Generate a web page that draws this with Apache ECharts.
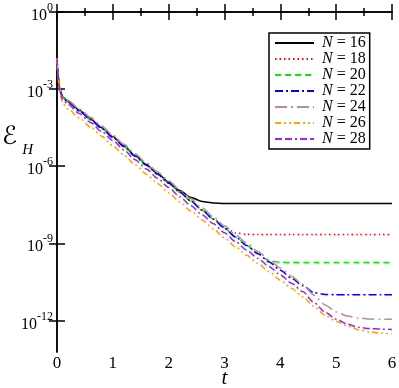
<!DOCTYPE html>
<html>
<head>
<meta charset="utf-8">
<script src="https://cdn.jsdelivr.net/npm/echarts@6/dist/echarts.min.js"></script>
<style>
  html, body { margin: 0; padding: 0; background: #fff; }
  #main { width: 399px; height: 388px; }
</style>
</head>
<body>
<div id="main"></div>
<script>
// time points
const t = [0, 0.02, 0.05, 0.1, 0.2, 0.4, 0.6, 0.8, 1.0, 1.2, 1.4, 1.6, 1.8, 2.0, 2.2, 2.4, 2.6, 2.8,
  3.0, 3.2, 3.4, 3.6, 3.8, 4.0, 4.2, 4.4, 4.6, 4.8, 5.0, 5.2, 5.4, 5.6, 5.8, 6.0];

// log10 of E_H
const logE16 = [-1.8, -2.5, -3.0, -3.3, -3.48, -3.82, -4.16, -4.5, -4.85, -5.21, -5.58, -5.93, -6.28, -6.62, -6.95, -7.22, -7.37, -7.43,
  -7.45, -7.45, -7.45, -7.45, -7.45, -7.45, -7.45, -7.45, -7.45, -7.45, -7.45, -7.45, -7.45, -7.45, -7.45, -7.45];
const logE18 = [-1.8, -2.5, -3.0, -3.32, -3.5, -3.84, -4.18, -4.52, -4.87, -5.23, -5.6, -5.95, -6.3, -6.65, -7.0, -7.35, -7.7, -8.05,
  -8.38, -8.6, -8.65, -8.66, -8.66, -8.66, -8.66, -8.66, -8.66, -8.66, -8.66, -8.66, -8.66, -8.66, -8.66, -8.66];
const logE20 = [-1.8, -2.5, -3.0, -3.32, -3.5, -3.85, -4.19, -4.53, -4.88, -5.24, -5.6, -5.96, -6.31, -6.66, -7.01, -7.36, -7.71, -8.06,
  -8.41, -8.76, -9.08, -9.4, -9.68, -9.74, -9.75, -9.75, -9.75, -9.75, -9.75, -9.75, -9.75, -9.75, -9.75, -9.75];
const logE22 = [-1.8, -2.5, -3.0, -3.33, -3.51, -3.85, -4.19, -4.53, -4.88, -5.24, -5.61, -5.96, -6.31, -6.66, -7.01, -7.36, -7.71, -8.06,
  -8.41, -8.76, -9.09, -9.41, -9.73, -10.05, -10.36, -10.65, -10.92, -10.99, -11.0, -11.0, -11.0, -11.0, -11.0, -11.0];
const logE24 = [-1.8, -2.5, -2.98, -3.28, -3.44, -3.77, -4.1, -4.44, -4.79, -5.15, -5.52, -5.87, -6.22, -6.57, -6.92, -7.27, -7.62, -7.97,
  -8.32, -8.67, -9.0, -9.32, -9.64, -9.96, -10.28, -10.6, -11.02, -11.4, -11.67, -11.83, -11.91, -11.95, -11.96, -11.96];
const logE26 = [-1.8, -2.55, -3.15, -3.55, -3.78, -4.12, -4.47, -4.83, -5.2, -5.57, -5.95, -6.31, -6.67, -7.03, -7.39, -7.74, -8.09, -8.44,
  -8.79, -9.14, -9.47, -9.79, -10.11, -10.43, -10.75, -11.08, -11.45, -11.8, -12.03, -12.22, -12.36, -12.45, -12.5, -12.52];
const logE28 = [-1.8, -2.5, -3.05, -3.4, -3.6, -3.95, -4.3, -4.65, -5.0, -5.37, -5.75, -6.11, -6.47, -6.83, -7.19, -7.54, -7.89, -8.24,
  -8.59, -8.94, -9.27, -9.59, -9.91, -10.23, -10.55, -10.88, -11.3, -11.68, -11.95, -12.15, -12.27, -12.32, -12.34, -12.35];

const names = ['16', '18', '20', '22', '24', '26', '28'];
const yTicks = [0, -3, -6, -9, -12];

const seriesData = [logE16, logE18, logE20, logE22, logE24, logE26, logE28];
const colors = ['#000000', '#ff0000', '#00ee00', '#0000ff', '#bc8f8f', '#ffa500', '#a020f0'];
const dashes = ['solid', [1.5, 3], [6, 4], [8, 3, 2, 3], [12, 4, 2, 4], [6, 3, 2, 3, 2, 3], [7, 3, 7, 3, 2, 3]];

const serif = 'Liberation Serif';

const myChart = echarts.init(document.getElementById('main'));

const series = seriesData.map(function (vals, i) {
    return {
        name: 'N = ' + names[i],
        type: 'line',
        data: t.map(function (x, j) { return [x, vals[j]]; }),
        symbol: 'none',
        smooth: 0.25,
        smoothMonotone: 'x',
        lineStyle: { color: colors[i], width: 1.5, type: dashes[i] },
        itemStyle: { color: colors[i] }
    };
});

const xCommon = {
    type: 'value',
    min: 0,
    max: 6,
    interval: 1,
    axisLine: { lineStyle: { color: '#000', width: 1.5 } },
    axisTick: { inside: true, length: 8, lineStyle: { color: '#000', width: 1.5 } },
    minorTick: { show: true, splitNumber: 2, length: 4, lineStyle: { color: '#000', width: 1.5 } },
    splitLine: { show: false },
    minorSplitLine: { show: false }
};

const yCommon = {
    type: 'value',
    min: -13.23,
    max: 0,
    axisLine: { lineStyle: { color: '#000', width: 1.5 } },
    axisTick: { inside: true, length: 8, customValues: yTicks, lineStyle: { color: '#000', width: 1.5 } },
    splitLine: { show: false }
};

const option = {
    animation: false,
    grid: { left: 57, right: 7, top: 12, bottom: 36, containLabel: false, outerBoundsMode: 'none' },
    xAxis: [
        Object.assign({}, xCommon, {
            position: 'bottom',
            name: 't',
            nameLocation: 'middle',
            nameGap: 16,
            nameMoveOverlap: false,
            nameTextStyle: { fontFamily: serif, fontStyle: 'italic', fontSize: 21, color: '#000', verticalAlign: 'top' },
            axisLabel: { fontFamily: serif, fontSize: 17, color: '#000', margin: 3 }
        }),
        Object.assign({}, xCommon, { position: 'top', axisLabel: { show: false } })
    ],
    yAxis: [
        Object.assign({}, yCommon, {
            position: 'left',
            axisLabel: {
                customValues: yTicks,
                margin: 4,
                formatter: function (v) { return '{b|10}{s|' + v + '}'; },
                rich: {
                    b: { fontFamily: serif, fontSize: 16, color: '#000', padding: [8, 0, 0, 0] },
                    s: { fontFamily: serif, fontSize: 12, color: '#000', padding: [0, 0, 8, 0] }
                }
            }
        }),
        Object.assign({}, yCommon, { position: 'right', axisLabel: { show: false } })
    ],
    legend: {
        orient: 'vertical',
        left: 269,
        top: 33,
        padding: [2, 4, 2, 5],
        itemWidth: 39,
        itemHeight: 10,
        itemGap: 0,
        borderColor: '#000',
        borderWidth: 1.5,
        itemStyle: { opacity: 0 },
        data: series.map(function (s) { return s.name; }),
        formatter: function (name) {
            return '{i|N}{r|' + name.slice(1) + '}';
        },
        textStyle: {
            padding: [0, 0, 0, 3],
            rich: {
                i: { fontFamily: serif, fontStyle: 'italic', fontSize: 16, color: '#000', lineHeight: 15.7 },
                r: { fontFamily: serif, fontSize: 16, color: '#000', lineHeight: 15.7 }
            }
        }
    },
    graphic: [
        {
            type: 'text',
            left: 2,
            top: 125,
            style: {
                text: '{e|ℰ}{h|H}',
                rich: {
                    e: { fontFamily: 'DejaVu Sans', fontSize: 25, fill: '#000' },
                    h: { fontFamily: serif, fontStyle: 'italic', fontSize: 15, fill: '#000', padding: [26, 0, 0, 5] }
                }
            }
        }
    ],
    series: series
};

option && myChart.setOption(option);
</script>
</body>
</html>
